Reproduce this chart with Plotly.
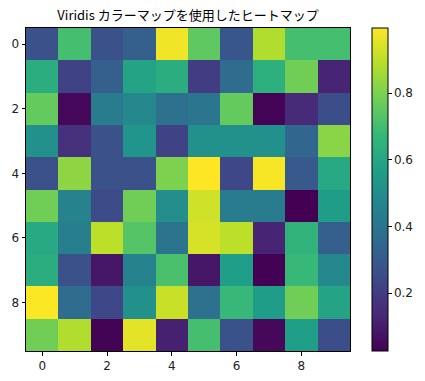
import plotly.graph_objects as go

x_labels = list(range(10))
y_labels = list(range(10))
values = [
    [0.268, 0.704, 0.268, 0.317, 0.976, 0.753, 0.288, 0.879, 0.704, 0.704],
    [0.627, 0.220, 0.317, 0.588, 0.627, 0.200, 0.365, 0.636, 0.782, 0.123],
    [0.762, 0.045, 0.433, 0.481, 0.385, 0.404, 0.762, 0.036, 0.142, 0.259],
    [0.511, 0.162, 0.268, 0.530, 0.220, 0.511, 0.511, 0.511, 0.346, 0.821],
    [0.268, 0.830, 0.268, 0.268, 0.801, 0.995, 0.239, 0.985, 0.297, 0.607],
    [0.782, 0.462, 0.249, 0.782, 0.501, 0.927, 0.433, 0.433, 0.026, 0.559],
    [0.607, 0.443, 0.898, 0.733, 0.394, 0.937, 0.898, 0.123, 0.656, 0.317],
    [0.627, 0.268, 0.084, 0.462, 0.714, 0.084, 0.569, 0.030, 0.675, 0.481],
    [0.993, 0.365, 0.239, 0.511, 0.917, 0.385, 0.675, 0.559, 0.782, 0.588],
    [0.782, 0.879, 0.033, 0.956, 0.113, 0.704, 0.268, 0.045, 0.569, 0.259],
]
x_ticks = [0, 2, 4, 6, 8]
y_ticks = [0, 2, 4, 6, 8]
cbar_ticks = [0.2, 0.4, 0.6, 0.8]
title_text = "Viridis カラーマップを使用したヒートマップ"

tick_font = dict(family="DejaVu Sans", size=12, color="#222222")

fig = go.Figure(
    go.Heatmap(
        z=values,
        x=x_labels,
        y=y_labels,
        colorscale="Viridis",
        colorbar=dict(
            x=372 / 425,
            xref="container",
            xanchor="left",
            thickness=16,
            len=1,
            lenmode="fraction",
            y=0.5,
            yanchor="middle",
            outlinecolor="black",
            outlinewidth=1,
            tickvals=cbar_ticks,
            ticktext=[f"{t:.1f}" for t in cbar_ticks],
            ticks="outside",
            ticklen=3.5,
            tickcolor="black",
            tickfont=tick_font,
            xpad=0,
            ypad=0,
        ),
    )
)

fig.update_layout(
    width=425,
    height=381,
    margin=dict(l=26, r=75, t=28, b=30, autoexpand=False),
    paper_bgcolor="white",
    plot_bgcolor="white",
    title=dict(
        text=title_text,
        x=188 / 425,
        xanchor="center",
        y=1 - 15 / 381,
        yanchor="middle",
        font=dict(family="Noto Sans CJK JP", size=13, color="black"),
    ),
)
fig.update_xaxes(
    range=[-0.5, 9.5],
    tickvals=x_ticks,
    ticks="outside",
    ticklen=3.5,
    tickcolor="black",
    tickfont=tick_font,
    showline=True,
    linecolor="black",
    linewidth=1,
    mirror=True,
    showgrid=False,
    zeroline=False,
    automargin=False,
)
fig.update_yaxes(
    range=[9.5, -0.5],
    tickvals=y_ticks,
    ticks="outside",
    ticklen=3.5,
    tickcolor="black",
    tickfont=tick_font,
    showline=True,
    linecolor="black",
    linewidth=1,
    mirror=True,
    showgrid=False,
    zeroline=False,
    automargin=False,
)

fig.write_html(
    "out.html",
    config={"displayModeBar": False},
    post_script="document.body.style.margin='0';document.body.style.overflow='hidden';",
)
